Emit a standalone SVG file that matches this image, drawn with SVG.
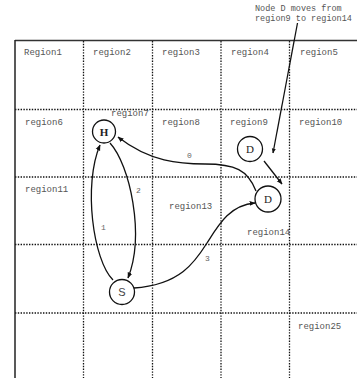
<svg xmlns="http://www.w3.org/2000/svg" width="357" height="378" viewBox="0 0 357 378">
<style>
.rg{font-family:"Liberation Mono","DejaVu Sans Mono",monospace;font-size:9px;fill:#555}
.lb{font-family:"Liberation Mono","DejaVu Sans Mono",monospace;font-size:8px;fill:#666}
.grid{stroke:#111;stroke-width:1.3;stroke-dasharray:1.4,1.4;fill:none}
.node{fill:#fff;stroke:#111;stroke-width:1.3}
.nt{font-family:"Liberation Serif",serif;font-size:11px;fill:#222;text-anchor:middle}
.edge{fill:none;stroke:#111;stroke-width:1.3}
</style>
<defs>
<marker id="ah" viewBox="0 0 10 10" refX="9" refY="5" markerWidth="6" markerHeight="6" markerUnits="userSpaceOnUse" orient="auto">
<path d="M0,1 L10,5 L0,9 z" fill="#111"/>
</marker>
<marker id="ah2" viewBox="0 0 10 10" refX="9" refY="5" markerWidth="5" markerHeight="5" markerUnits="userSpaceOnUse" orient="auto">
<path d="M0,1 L10,5 L0,9 z" fill="#111"/>
</marker>
</defs>
<rect width="357" height="378" fill="#fff"/>
<g id="grid">
<line x1="83.5" y1="41" x2="83.5" y2="378" class="grid"/>
<line x1="152.5" y1="41" x2="152.5" y2="378" class="grid"/>
<line x1="221" y1="41" x2="221" y2="378" class="grid"/>
<line x1="289.5" y1="41" x2="289.5" y2="378" class="grid"/>
<line x1="15" y1="109.5" x2="357" y2="109.5" class="grid"/>
<line x1="15" y1="177" x2="357" y2="177" class="grid"/>
<line x1="15" y1="244.5" x2="357" y2="244.5" class="grid"/>
<line x1="15" y1="313" x2="357" y2="313" class="grid"/>
<line x1="15" y1="40.5" x2="357" y2="40.5" stroke="#333" stroke-width="1.5"/>
<line x1="15" y1="40" x2="15" y2="378" stroke="#222" stroke-width="1.5"/>
</g>
<g id="labels">
<text class="rg" x="24" y="55">Region1</text>
<text class="rg" x="93" y="55">region2</text>
<text class="rg" x="162" y="55">region3</text>
<text class="rg" x="231" y="55">region4</text>
<text class="rg" x="300" y="55">region5</text>
<text class="rg" x="25" y="125">region6</text>
<text class="rg" x="111" y="116">region7</text>
<text class="rg" x="162" y="125">region8</text>
<text class="rg" x="230" y="125">region9</text>
<text class="rg" x="299" y="125">region10</text>
<text class="rg" x="25" y="192">region11</text>
<text class="rg" x="169" y="209">region13</text>
<text class="rg" x="247" y="235">region14</text>
<text class="rg" x="298" y="329">region25</text>
<text class="rg" x="255" y="11" style="font-size:8.5px">Node D moves from</text>
<text class="rg" x="255" y="20.5" style="font-size:8.5px">region9 to region14</text>
</g>
<g id="connectors">
<path id="e1" class="edge" d="M113,280 C93,260 83,185 100,145" marker-end="url(#ah)"/>
<path id="e2" class="edge" d="M110,143 C130,165 145,235 128,278" marker-end="url(#ah)"/>
<path id="e0" class="edge" d="M256,191 C248,170 235,164 205,164 C180,164 150,162 118,137" marker-end="url(#ah)"/>
<path id="e3" class="edge" d="M134,288 C180,285 195,262 207,243 S230,205 255,203" marker-end="url(#ah)"/>
<path id="move" class="edge" stroke-width="1.5" d="M264,161 L282,184" marker-end="url(#ah)"/>
<path id="note" class="edge" stroke-width="0.9" d="M297.5,23 L273,153" marker-end="url(#ah2)"/>
<text class="lb" x="101" y="230">1</text>
<text class="lb" x="136" y="193">2</text>
<text class="lb" x="187" y="158">0</text>
<text class="lb" x="205" y="261">3</text>
</g>
<g id="H"><circle class="node" cx="104" cy="131.5" r="11.5"/><text class="nt" x="104" y="135.5" font-weight="bold">H</text></g>
<g id="D1"><circle class="node" cx="250" cy="149" r="12.5"/><text class="nt" x="250" y="153">D</text></g>
<g id="D2"><circle class="node" cx="268" cy="199" r="13"/><text class="nt" x="268" y="203">D</text></g>
<g id="S"><circle class="node" cx="122" cy="292" r="12.5"/><text class="nt" x="122" y="296" style="font-family:'Liberation Sans',sans-serif;fill:#444">S</text></g>
</svg>
